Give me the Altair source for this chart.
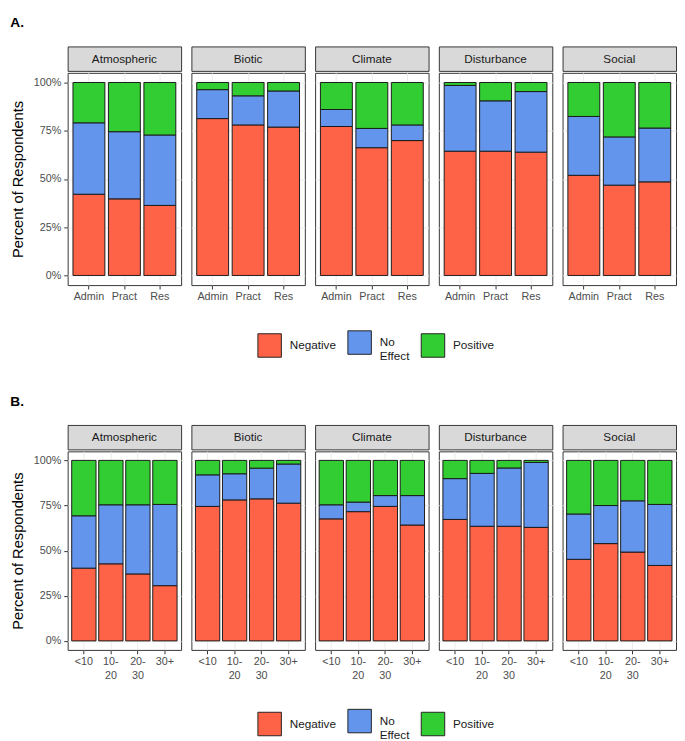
import altair as alt
import pandas as pd

FONT = "Liberation Sans"
cats = ["Atmospheric", "Biotic", "Climate", "Disturbance", "Social"]
effects = ["Negative", "No Effect", "Positive"]
colors = ["#FF6347", "#6495ED", "#32CD32"]

# Panel A: by role
a_groups = ["Admin", "Pract", "Res"]
a_neg = [[42.1, 39.7, 36.3], [81.3, 78.0, 76.9], [77.2, 66.2, 69.9], [64.4, 64.4, 63.9], [51.9, 46.8, 48.5]]
a_noe = [[37.0, 34.8, 36.5], [15.0, 15.1, 18.7], [8.8, 10.0, 8.1], [34.1, 26.1, 31.4], [30.5, 25.0, 27.9]]
a_pos = [[20.9, 25.5, 27.2], [3.7, 6.9, 4.4], [14.0, 23.8, 22.0], [1.5, 9.5, 4.7], [17.6, 28.2, 23.6]]

# Panel B: by years of experience
b_groups = ["<10", "10-20", "20-30", "30+"]
b_neg = [[40.3, 42.7, 37.1, 30.6], [74.5, 78.1, 78.7, 76.3], [67.6, 71.6, 74.5, 64.2], [67.3, 63.5, 63.5, 62.9], [45.2, 53.9, 49.2, 41.8]]
b_noe = [[29.0, 32.7, 38.3, 45.0], [17.5, 14.5, 17.0, 21.7], [7.8, 5.3, 6.0, 16.3], [22.6, 29.3, 32.3, 36.0], [25.1, 21.1, 28.4, 33.8]]
b_pos = [[30.7, 24.6, 24.6, 24.4], [8.0, 7.4, 4.3, 2.0], [24.6, 23.1, 19.5, 19.5], [10.1, 7.2, 4.2, 1.1], [29.7, 25.0, 22.4, 24.4]]

W = 116


def make_df(groups, neg, noe, pos):
    rows = []
    for ci, c in enumerate(cats):
        for gi, g in enumerate(groups):
            for ei, vals in enumerate([neg, noe, pos]):
                rows.append(dict(cat=c, grp=g, effect=effects[ei], ord=ei, val=vals[ci][gi]))
    return pd.DataFrame(rows)


def legend(lx, ly):
    return alt.Legend(
        orient="none", legendX=lx, legendY=ly, direction="horizontal", title=None,
        symbolType="square", symbolSize=576, symbolStrokeColor="#222222", symbolStrokeWidth=1,
        symbolOpacity=1, labelFont=FONT, labelFontSize=12, labelColor="#1a1a1a",
        labelOffset=8, columnPadding=9,
        labelExpr="datum.label == 'No Effect' ? ['No', 'Effect'] : datum.label",
    )


def section(df, groups, h, title, lx, ly):
    cols = []
    for i, c in enumerate(cats):
        first = i == 0
        strip = alt.Chart(pd.DataFrame({"cat": [c]})).mark_text(
            font=FONT, fontSize=12, color="#1a1a1a"
        ).encode(text="cat:N").properties(
            width=W, height=25,
            view=alt.ViewBackground(fill="#d9d9d9", stroke="#333333", strokeWidth=1),
        )
        yaxis = alt.Axis(
            values=[0, 0.25, 0.5, 0.75, 1], format=".0%", grid=True, gridColor="#ebebeb",
            domain=False, ticks=first, labels=first, tickSize=4, tickColor="#333333",
            labelFont=FONT, labelFontSize=11, labelColor="#4d4d4d", labelPadding=3,
            title="Percent of Respondents" if first else None,
            titleFont=FONT, titleFontSize=15, titleFontWeight="normal", titleColor="#000000",
            titlePadding=8,
        )
        xaxis = alt.Axis(
            title=None, labelAngle=0, domain=False, grid=True, gridColor="#ebebeb",
            bandPosition=0.5, tickSize=4, tickColor="#333333",
            labelFont=FONT, labelFontSize=11, labelColor="#4d4d4d", labelPadding=2,
            labelLineHeight=14,
            labelExpr="indexof(datum.label, '-') > 0 ? [split(datum.label, '-')[0] + '-', split(datum.label, '-')[1]] : datum.label",
        )
        bars = alt.Chart(df[df.cat == c]).mark_bar(stroke="#1a1a1a", strokeWidth=1).encode(
            x=alt.X("grp:N", sort=groups, scale=alt.Scale(paddingInner=0.1, paddingOuter=0.15), axis=xaxis),
            y=alt.Y("val:Q", stack="normalize",
                    scale=alt.Scale(domain=[-0.05, 1.05], nice=False, zero=False), axis=yaxis),
            color=alt.Color("effect:N", scale=alt.Scale(domain=effects, range=colors), legend=legend(lx, ly)),
            order=alt.Order("ord:Q", sort="ascending"),
        ).properties(
            width=W, height=h,
            view=alt.ViewBackground(fill="white", stroke="#333333", strokeWidth=1),
        )
        cols.append(alt.vconcat(strip, bars, spacing=0))
    return alt.hconcat(*cols, spacing=8.5).properties(
        title=alt.Title(title, anchor="start", font=FONT, fontSize=14, fontWeight="bold",
                        color="#000000", offset=16)
    )


secA = section(make_df(a_groups, a_neg, a_noe, a_pos), a_groups, 217, "A.", 194, 290)
secB = section(make_df(b_groups, b_neg, b_noe, b_pos), b_groups, 203, "B.", 194, 290)

chart = alt.vconcat(secA, secB, spacing=33).resolve_scale(color="independent").properties(
    padding={"left": 2, "top": 0, "right": 0, "bottom": 0}
).configure(font=FONT)

chart.save("out.html", embed_options={"renderer": "svg", "actions": False})
